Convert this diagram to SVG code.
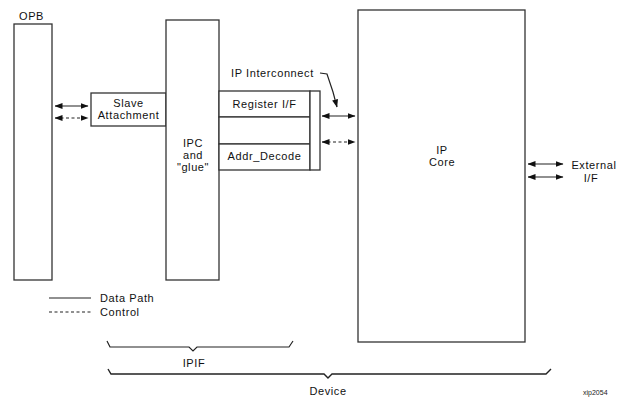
<svg xmlns="http://www.w3.org/2000/svg" width="622" height="398" viewBox="0 0 622 398">
<style>
.box{fill:#fff;stroke:#333;stroke-width:1.3}
.ln{fill:none;stroke:#222;stroke-width:1.2}
.dash{stroke-dasharray:3,2.5}
.t{font-family:"Liberation Sans",Arial,sans-serif;font-size:11px;letter-spacing:0.6px;fill:#111}
.m{text-anchor:middle}
</style>
<defs>
<marker id="ah" viewBox="0 0 8 6" refX="7.5" refY="3" markerWidth="8" markerHeight="6" markerUnits="userSpaceOnUse" orient="auto-start-reverse">
<path d="M0,0 L8,3 L0,6 Z" fill="#111"/>
</marker>
</defs>
<rect width="622" height="398" fill="#fff"/>
<g id="opb">
<rect class="box" x="14" y="24" width="38" height="256"/>
<text class="t" x="19" y="20">OPB</text>
</g>
<g id="slave">
<rect class="box" x="91" y="93" width="75" height="33"/>
<text class="t m" x="128.5" y="107">Slave</text>
<text class="t m" x="128.5" y="118.5">Attachment</text>
</g>
<g id="ipc">
<rect class="box" x="166" y="20" width="53" height="260"/>
<text class="t m" x="193" y="147">IPC</text>
<text class="t m" x="193" y="159">and</text>
<text class="t m" x="193" y="171">"glue"</text>
</g>
<g id="register">
<rect class="box" x="219" y="91" width="91" height="26"/>
<text class="t m" x="264.5" y="108">Register I/F</text>
</g>
<g id="middle">
<rect class="box" x="219" y="117" width="91" height="27"/>
</g>
<g id="addr">
<rect class="box" x="219" y="144" width="91" height="26"/>
<text class="t m" x="264.5" y="160">Addr_Decode</text>
</g>
<g id="interconnect">
<rect class="box" x="310" y="91" width="10" height="79"/>
<text class="t" x="231" y="77">IP Interconnect</text>
</g>
<g id="ipcore">
<rect class="box" x="358" y="10" width="167" height="332"/>
<text class="t m" x="442" y="154">IP</text>
<text class="t m" x="442" y="166">Core</text>
</g>
<g id="external">
<text class="t m" x="594" y="169">External</text>
<text class="t m" x="591" y="182">I/F</text>
</g>
<g id="connectors">
<line class="ln" x1="55" y1="106" x2="88" y2="106" marker-start="url(#ah)" marker-end="url(#ah)"/>
<line class="ln dash" x1="55" y1="118" x2="88" y2="118" marker-start="url(#ah)" marker-end="url(#ah)"/>
<line class="ln" x1="322" y1="116" x2="355" y2="116" marker-start="url(#ah)" marker-end="url(#ah)"/>
<line class="ln dash" x1="322" y1="142" x2="355" y2="142" marker-start="url(#ah)" marker-end="url(#ah)"/>
<line class="ln" x1="528" y1="164" x2="563" y2="164" marker-start="url(#ah)" marker-end="url(#ah)"/>
<line class="ln" x1="528" y1="177" x2="563" y2="177" marker-start="url(#ah)" marker-end="url(#ah)"/>
<path class="ln" d="M320,73 L327,74 L333,92 L337,107" marker-end="url(#ah)"/>
</g>
<g id="legend">
<line class="ln" x1="49" y1="298" x2="91" y2="298"/>
<line class="ln dash" x1="49" y1="312" x2="91" y2="312"/>
<text class="t" x="100" y="302">Data Path</text>
<text class="t" x="100" y="316">Control</text>
</g>
<g id="braces">
<path class="ln" d="M107,341 L110,347 L189,347 L193,351 L197,347 L289,347 L293,341"/>
<text class="t m" x="194" y="367">IPIF</text>
<path class="ln" d="M108,369 L111,374 L324,374 L328,378 L332,374 L546,374 L551,369" style="stroke-width:1.4"/>
<text class="t m" x="328" y="395">Device</text>
<text x="583" y="395" style="font-family:'Liberation Sans',Arial,sans-serif;font-size:7px;fill:#222">xip2054</text>
</g>
</svg>
